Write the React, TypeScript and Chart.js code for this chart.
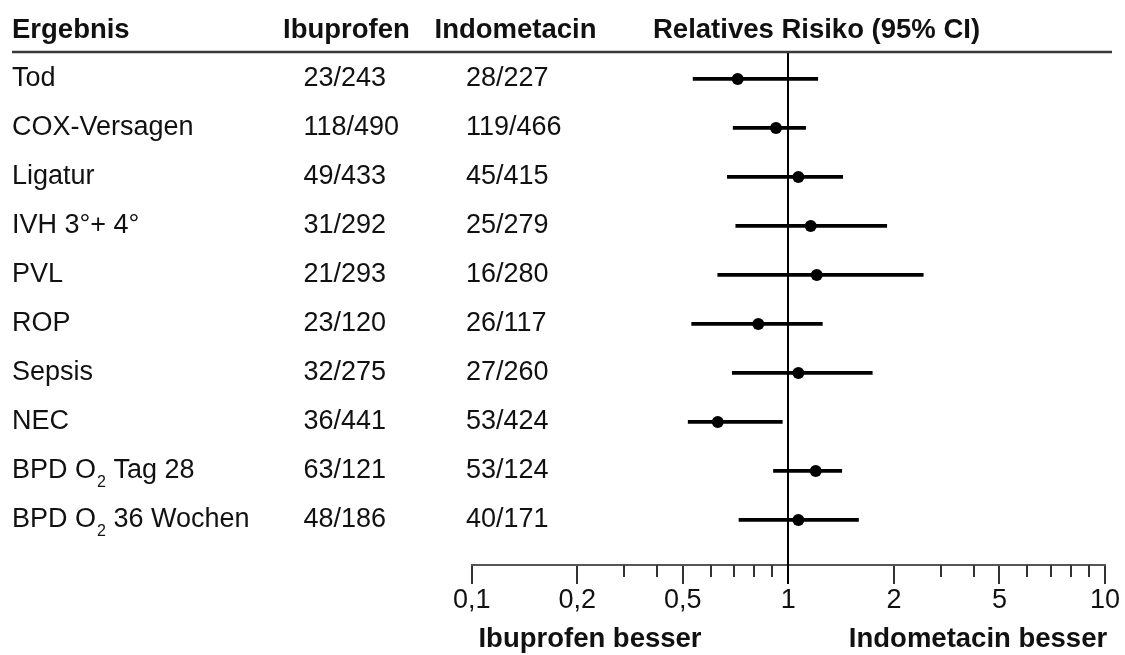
import React, { useEffect, useRef } from 'react';
import { Chart, registerables, LogarithmicScale } from 'chart.js';

Chart.register(...registerables);

// ---------- data ----------
const outcomes = [
  'Tod',
  'COX-Versagen',
  'Ligatur',
  'IVH 3°+ 4°',
  'PVL',
  'ROP',
  'Sepsis',
  'NEC',
  'BPD O₂ Tag 28',
  'BPD O₂ 36 Wochen',
];
const ibuprofenCounts = ['23/243', '118/490', '49/433', '31/292', '21/293', '23/120', '32/275', '36/441', '63/121', '48/186'];
const indometacinCounts = ['28/227', '119/466', '45/415', '25/279', '16/280', '26/117', '27/260', '53/424', '53/124', '40/171'];
const relativeRisk = [0.717, 0.922, 1.068, 1.158, 1.205, 0.821, 1.068, 0.629, 1.197, 1.068];
const ciLower = [0.535, 0.696, 0.67, 0.708, 0.629, 0.53, 0.692, 0.518, 0.907, 0.723];
const ciUpper = [1.213, 1.12, 1.429, 1.908, 2.58, 1.25, 1.735, 0.961, 1.42, 1.585];
const tickValues = [0.1, 0.2, 0.5, 1, 2, 5, 10];
const tickLabels = ['0,1', '0,2', '0,5', '1', '2', '5', '10'];
const minorTickValues = [0.3, 0.4, 0.6, 0.7, 0.8, 0.9, 3, 4, 6, 7, 8, 9];
const headers = ['Ergebnis', 'Ibuprofen', 'Indometacin', 'Relatives Risiko (95% CI)'];
const favourLabels = ['Ibuprofen besser', 'Indometacin besser'];

const FONT = "'Liberation Sans', Arial, sans-serif";

// Axis with equally spaced 1-2-5 steps, logarithmic inside each step
class SegmentedLogScale extends LogarithmicScale {
  static id = 'segmentedLog';
  static defaults = {};
  _frac(v: number) {
    const k = tickValues;
    const n = k.length - 1;
    let i = 0;
    while (i < n - 1 && v > k[i + 1]) i++;
    return (i + Math.log(v / k[i]) / Math.log(k[i + 1] / k[i])) / n;
  }
  getPixelForValue(v: any) {
    if (v === null || v === undefined || isNaN(v) || v <= 0) return NaN;
    return this.getPixelForDecimal(this._frac(+v));
  }
  getValueForPixel(p: number) {
    const k = tickValues;
    const n = k.length - 1;
    const d = this.getDecimalForPixel(p) * n;
    const i = Math.min(n - 1, Math.max(0, Math.floor(d)));
    return k[i] * Math.pow(k[i + 1] / k[i], d - i);
  }
  buildTicks() {
    return tickValues.map((v) => ({ value: v }));
  }
}
Chart.register(SegmentedLogScale as any);

function drawRich(ctx: CanvasRenderingContext2D, text: string, x: number, y: number, size: number, weight: string) {
  const parts = text.split('₂');
  let cx = x;
  parts.forEach((p, idx) => {
    ctx.font = `${weight} ${size}px ${FONT}`;
    ctx.fillText(p, cx, y);
    cx += ctx.measureText(p).width;
    if (idx < parts.length - 1) {
      ctx.font = `${weight} 16px ${FONT}`;
      ctx.fillText('2', cx + 1, y + 9);
      cx += ctx.measureText('2').width + 1;
    }
  });
}

const decorPlugin = {
  id: 'forestDecor',
  beforeDatasetsDraw(chart: any) {
    const { ctx, chartArea, scales } = chart;
    const xs = scales.x;
    const x1 = Math.round(xs.getPixelForValue(1));
    ctx.save();
    ctx.strokeStyle = '#000';
    ctx.lineWidth = 2;
    ctx.beginPath();
    ctx.moveTo(x1, chartArea.top);
    ctx.lineTo(x1, chartArea.bottom + 19);
    ctx.stroke();
    ctx.restore();
  },
  afterDraw(chart: any) {
    const { ctx, chartArea, scales } = chart;
    const xs = scales.x;
    const ys = scales.y;
    ctx.save();
    // header line
    ctx.strokeStyle = '#3a3a3a';
    ctx.lineWidth = 2.5;
    ctx.beginPath();
    ctx.moveTo(12, chartArea.top);
    ctx.lineTo(1112, chartArea.top);
    ctx.stroke();

    // headers
    ctx.fillStyle = '#111';
    ctx.textBaseline = 'alphabetic';
    ctx.textAlign = 'left';
    const headerX = [12, 283, 434.5, 653];
    headers.forEach((h, i) => {
      ctx.font = `bold 27.5px ${FONT}`;
      ctx.fillText(h, headerX[i], 37.5);
    });

    // rows
    outcomes.forEach((o, i) => {
      const y = ys.getPixelForValue(i) + 7.5;
      drawRich(ctx, o, 12, y, 27, 'normal');
      ctx.font = `normal 27px ${FONT}`;
      ctx.fillText(ibuprofenCounts[i], 303.5, y);
      ctx.fillText(indometacinCounts[i], 466, y);
    });

    // minor ticks
    ctx.strokeStyle = '#333';
    ctx.lineWidth = 2;
    minorTickValues.forEach((v) => {
      const px = Math.round(xs.getPixelForValue(v));
      ctx.beginPath();
      ctx.moveTo(px, chartArea.bottom);
      ctx.lineTo(px, chartArea.bottom + 12);
      ctx.stroke();
    });

    // favour labels
    ctx.fillStyle = '#111';
    ctx.textAlign = 'center';
    ctx.font = `bold 27.5px ${FONT}`;
    ctx.fillText(favourLabels[0], 590, 647);
    ctx.fillText(favourLabels[1], 978, 647);
    ctx.restore();
  },
};

export default function App() {
  const ref = useRef<HTMLCanvasElement>(null);
  useEffect(() => {
    const pointData = relativeRisk.map((v, i) => ({ x: v, y: i }));
    const ciData = ciLower.map((lo, i) => ({ x: [lo, ciUpper[i]], y: i }));
    const chart = new Chart(ref.current as HTMLCanvasElement, {
      type: 'bar',
      data: {
        datasets: [
          {
            type: 'scatter',
            label: 'RR',
            data: pointData as any,
            backgroundColor: '#000',
            borderColor: '#000',
            borderWidth: 0,
            pointRadius: 6,
            pointHoverRadius: 6,
          } as any,
          {
            type: 'bar',
            label: '95% CI',
            indexAxis: 'y',
            data: ciData as any,
            backgroundColor: '#000',
            borderWidth: 0,
            barThickness: 3,
          } as any,
        ],
      },
      options: {
        indexAxis: 'y',
        responsive: false,
        animation: false,
        devicePixelRatio: 1,
        events: [],
        layout: { padding: { left: 471.7, right: 20, top: 52, bottom: 0 } },
        plugins: {
          legend: { display: false },
          tooltip: { enabled: false },
          title: { display: false },
        },
        scales: {
          x: {
            type: 'segmentedLog' as any,
            position: 'bottom',
            min: 0.1,
            max: 10,
            offset: false,
            afterFit: (s: any) => {
              s.height = 90;
            },
            grid: {
              display: true,
              drawOnChartArea: false,
              drawTicks: true,
              tickLength: 19,
              color: '#333',
              lineWidth: 2,
              offset: false,
            },
            border: { display: true, color: '#555', width: 2 },
            ticks: {
              autoSkip: false,
              maxRotation: 0,
              minRotation: 0,
              padding: 0,
              color: '#111',
              font: { family: FONT, size: 27 },
              callback: (_v: any, index: number) => tickLabels[index],
            },
          } as any,
          y: {
            type: 'linear',
            display: false,
            reverse: true,
            offset: false,
            grace: 0,
            min: -0.55,
            max: 9.92,
            grid: { offset: false },
          } as any,
        },
      },
      plugins: [decorPlugin],
    });
    return () => chart.destroy();
  }, []);
  return (
    <div style={{ position: 'fixed', left: 0, top: 0, width: 1125, height: 655, background: '#fff' }}>
      <canvas ref={ref} width={1125} height={655} style={{ width: 1125, height: 655, display: 'block' }} />
    </div>
  );
}
